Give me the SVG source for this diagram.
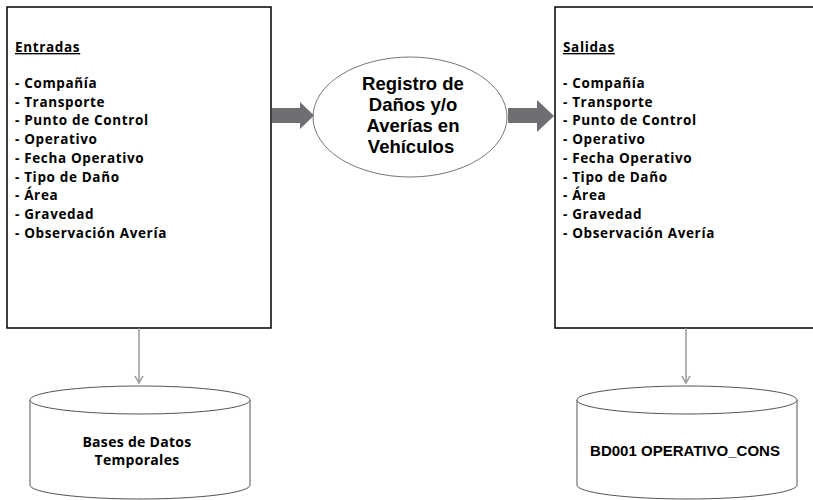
<svg xmlns="http://www.w3.org/2000/svg" width="813" height="500" viewBox="0 0 813 500">
<style>
.box{fill:#fff;stroke:#000;stroke-width:1.5}
.lst{font-family:"Open Sans","Liberation Sans",Arial,sans-serif;font-weight:bold;font-size:13.5px;letter-spacing:0.65px;fill:#000}
.ttl{text-decoration:underline}
.proc{font-family:"Liberation Sans",Arial,sans-serif;font-weight:bold;font-size:18.5px;fill:#000;text-anchor:middle}
.db{font-family:"Liberation Sans",Arial,sans-serif;font-weight:bold;fill:#000;text-anchor:middle}
.db2{font-family:"Open Sans","Liberation Sans",Arial,sans-serif;font-weight:bold;font-size:14px;letter-spacing:0.3px;fill:#000;text-anchor:middle}
.cyl{fill:#fff;stroke:#555;stroke-width:1}
.big{fill:#6d6f72}
.conn{stroke:#999;stroke-width:1.5;fill:none}
</style>
<defs>
<marker id="ah" markerWidth="10" markerHeight="10" refX="8" refY="5" orient="auto" markerUnits="userSpaceOnUse">
<path d="M1,1 L8,5 L1,9" fill="none" stroke="#999" stroke-width="1.5"/>
</marker>
</defs>
<rect width="813" height="500" fill="#fff"/>

<g id="entradas">
<rect class="box" x="7" y="7" width="264" height="321"/>
<text class="lst" x="15" y="52"><tspan class="ttl">Entradas</tspan></text>
<text class="lst" x="15" y="88">- Compañía</text>
<text class="lst" x="15" y="106.7">- Transporte</text>
<text class="lst" x="15" y="125.4">- Punto de Control</text>
<text class="lst" x="15" y="144.1">- Operativo</text>
<text class="lst" x="15" y="162.8">- Fecha Operativo</text>
<text class="lst" x="15" y="181.5">- Tipo de Daño</text>
<text class="lst" x="15" y="200.2">- Área</text>
<text class="lst" x="15" y="218.9">- Gravedad</text>
<text class="lst" x="15" y="237.6">- Observación Avería</text>
</g>

<g id="salidas">
<rect class="box" x="555" y="7" width="270" height="321"/>
<text class="lst" x="563" y="52"><tspan class="ttl">Salidas</tspan></text>
<text class="lst" x="563" y="88">- Compañía</text>
<text class="lst" x="563" y="106.7">- Transporte</text>
<text class="lst" x="563" y="125.4">- Punto de Control</text>
<text class="lst" x="563" y="144.1">- Operativo</text>
<text class="lst" x="563" y="162.8">- Fecha Operativo</text>
<text class="lst" x="563" y="181.5">- Tipo de Daño</text>
<text class="lst" x="563" y="200.2">- Área</text>
<text class="lst" x="563" y="218.9">- Gravedad</text>
<text class="lst" x="563" y="237.6">- Observación Avería</text>
</g>

<g id="proceso">
<ellipse cx="410" cy="117" rx="97" ry="60" fill="#fff" stroke="#777" stroke-width="1"/>
<text class="proc" x="413" y="90">Registro de</text>
<text class="proc" x="413" y="111">Daños y/o</text>
<text class="proc" x="413" y="132">Averías en</text>
<text class="proc" x="411" y="153">Vehículos</text>
</g>

<g id="bd_temporales">
<path class="cyl" d="M30,400 L30,485 A110,14 0 0 0 250,485 L250,400"/>
<ellipse class="cyl" cx="140" cy="400" rx="110" ry="14"/>
<text class="db2" x="137" y="447">Bases de Datos</text>
<text class="db2" x="137" y="465">Temporales</text>
</g>

<g id="bd_operativo">
<path class="cyl" d="M577,400 L577,485 A110,14 0 0 0 797,485 L797,400"/>
<ellipse class="cyl" cx="687" cy="400" rx="110" ry="14"/>
<text class="db" x="685" y="456" font-size="15">BD001 OPERATIVO_CONS</text>
</g>

<g id="connectors">
<path class="big" d="M272,108 L300,108 L300,102 L314,115.5 L300,129 L300,123 L272,123 Z"/>
<path class="big" d="M508,108 L537,108 L537,100 L554,116 L537,132 L537,123 L508,123 Z"/>
<line class="conn" x1="139" y1="328" x2="139" y2="383" marker-end="url(#ah)"/>
<line class="conn" x1="686" y1="328" x2="686" y2="383" marker-end="url(#ah)"/>
</g>
</svg>
